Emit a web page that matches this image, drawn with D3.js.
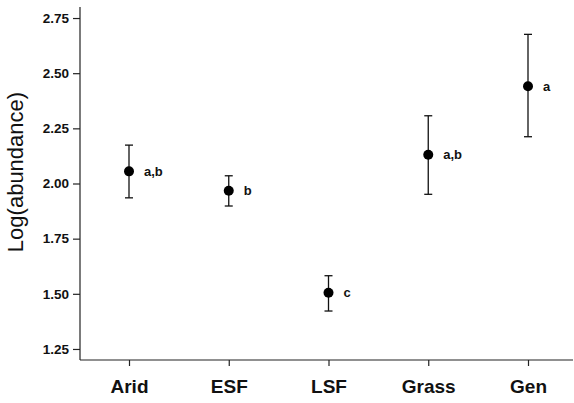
<!DOCTYPE html>
<html>
<head>
<meta charset="utf-8">
<script src="https://cdn.jsdelivr.net/npm/d3@7"></script>
<style>
  body { margin: 0; background: #fff; }
  svg { display: block; font-family: "Liberation Sans", Arial, sans-serif; }
</style>
</head>
<body>
<svg width="574" height="403"></svg>
<script>
const svg = d3.select("svg");

// data
const habitats = ["Arid", "ESF", "LSF", "Grass", "Gen"];
const means = [2.055, 1.967, 1.505, 2.130, 2.441];
const upper = [2.174, 2.035, 1.582, 2.307, 2.676];
const lower = [1.935, 1.898, 1.422, 1.951, 2.212];
const groups = ["a,b", "b", "c", "a,b", "a"];
const yTicks = [1.25, 1.50, 1.75, 2.00, 2.25, 2.50, 2.75];

const x = d3.scalePoint().domain(habitats).range([129, 528]);
const y = d3.scaleLinear().domain([1.2, 2.8]).range([360, 7]);

const left = 80, right = 573;

// y axis
const yAxis = svg.append("g")
  .attr("transform", `translate(${left},0)`)
  .call(d3.axisLeft(y).tickValues(yTicks).tickFormat(d3.format(".2f")).tickSizeOuter(0).tickSize(7).tickPadding(4));
yAxis.select(".domain").remove();
yAxis.selectAll("text").attr("font-size", 13.5).attr("font-weight", "bold").attr("fill", "#111");

svg.append("line")
  .attr("x1", left).attr("x2", left)
  .attr("y1", y(2.8)).attr("y2", y(1.2))
  .attr("stroke", "#222").attr("stroke-width", 1.2);

// x axis
const xAxis = svg.append("g")
  .attr("transform", `translate(0,${y(1.2)})`)
  .call(d3.axisBottom(x).tickSizeOuter(0).tickSize(6).tickPadding(14));
xAxis.select(".domain").remove();
xAxis.selectAll("text").attr("font-size", 19).attr("font-weight", "bold").attr("fill", "#111");

svg.append("line")
  .attr("x1", left).attr("x2", right)
  .attr("y1", y(1.2)).attr("y2", y(1.2))
  .attr("stroke", "#222").attr("stroke-width", 1.2);

svg.selectAll(".tick line").attr("stroke", "#222").attr("stroke-width", 1.2);

// y title
svg.append("text")
  .attr("transform", `translate(23,172) rotate(-90)`)
  .attr("text-anchor", "middle")
  .attr("font-size", 22)
  .attr("fill", "#111")
  .text("Log(abundance)");

// error bars + means
const pts = svg.selectAll(".pt")
  .data(habitats.map((h, i) => ({h, m: means[i], hi: upper[i], lo: lower[i], g: groups[i]})))
  .enter().append("g")
  .attr("class", "pt");

pts.append("line")
  .attr("x1", d => x(d.h)).attr("x2", d => x(d.h))
  .attr("y1", d => y(d.hi)).attr("y2", d => y(d.lo))
  .attr("stroke", "#111").attr("stroke-width", 1.3);

pts.append("line")
  .attr("x1", d => x(d.h) - 4).attr("x2", d => x(d.h) + 4)
  .attr("y1", d => y(d.hi)).attr("y2", d => y(d.hi))
  .attr("stroke", "#111").attr("stroke-width", 1.3);

pts.append("line")
  .attr("x1", d => x(d.h) - 4).attr("x2", d => x(d.h) + 4)
  .attr("y1", d => y(d.lo)).attr("y2", d => y(d.lo))
  .attr("stroke", "#111").attr("stroke-width", 1.3);

pts.append("circle")
  .attr("cx", d => x(d.h))
  .attr("cy", d => y(d.m))
  .attr("r", 5)
  .attr("fill", "#000");

pts.append("text")
  .attr("x", d => x(d.h) + 15)
  .attr("y", d => y(d.m) + 4.5)
  .attr("font-size", 13)
  .attr("font-weight", "bold")
  .attr("fill", "#111")
  .text(d => d.g);
</script>
</body>
</html>
